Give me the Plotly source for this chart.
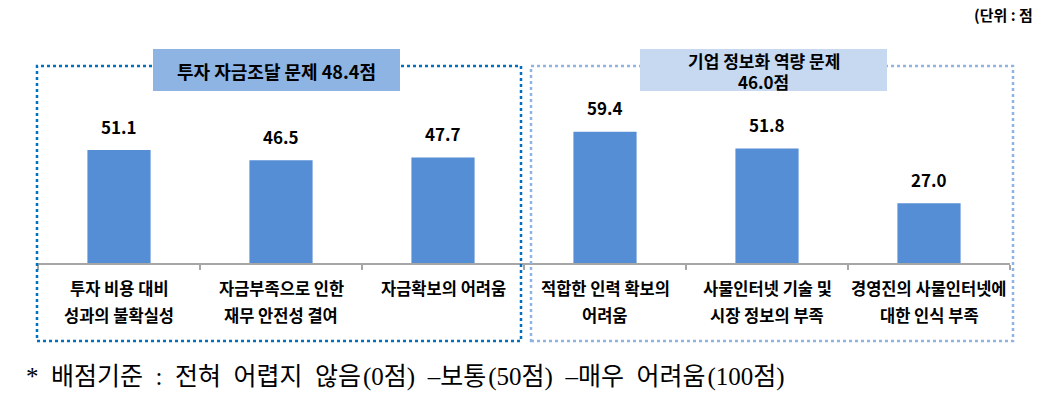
import plotly.graph_objects as go

categories = ["투자 비용 대비<br>성과의 불확실성", "자금부족으로 인한<br>재무 안전성 결여", "자금확보의 어려움",
              "적합한 인력 확보의<br>어려움", "사물인터넷 기술 및<br>시장 정보의 부족", "경영진의 사물인터넷에<br>대한 인식 부족"]
values = [51.1, 46.5, 47.7, 59.4, 51.8, 27.0]
group_titles = ["투자 자금조달 문제 48.4점", "기업 정보화 역량 문제<br>46.0점"]
unit_text = "(단위 : 점"
footnote = "* 배점기준 : 전혀 어렵지 않음(0점) –보통(50점) –매우 어려움(100점)"

W, H = 1038, 405
L, R, T, B = 38, 28, 50, 142
PW, PH = W - L - R, H - T - B
YMAX = PH / 2.21

def px(x):
    return (x - L) / PW

def py(y):
    return (H - B - y) / PH

KFONT = "Noto Sans CJK KR"
xidx = list(range(len(categories)))

fig = go.Figure()
fig.add_trace(go.Bar(x=xidx, y=values, marker=dict(color="#558ED5", line=dict(width=0)),
                     width=0.39, hoverinfo="skip"))

ann = []
for i, v in zip(xidx, values):
    ann.append(dict(x=i, y=v, xref="x", yref="y", text=f"{v:.1f}", showarrow=False,
                    yanchor="middle", yshift=24,
                    font=dict(family=KFONT, size=17, color="#000000", weight="bold")))
for i, c in zip(xidx, categories):
    lines = c.split("<br>")
    for j, ln in enumerate(lines):
        ann.append(dict(x=i, y=0, xref="x", yref="paper", text=ln, showarrow=False,
                        yanchor="middle", yshift=-25 - 27 * j,
                        font=dict(family=KFONT, size=16.5, color="#000000", weight="bold")))

shapes = []
# dotted group boxes
shapes.append(dict(type="rect", xref="paper", yref="paper", x0=px(37), x1=px(521), y0=py(341), y1=py(66),
                   line=dict(color="#0070C0", width=2.5, dash="dot"), fillcolor="rgba(0,0,0,0)", layer="above"))
shapes.append(dict(type="rect", xref="paper", yref="paper", x0=px(531), x1=px(1013), y0=py(341), y1=py(66),
                   line=dict(color="#8EB4E3", width=2.5, dash="dot"), fillcolor="rgba(0,0,0,0)", layer="above"))
# title boxes
shapes.append(dict(type="rect", xref="paper", yref="paper", x0=px(153), x1=px(400), y0=py(91), y1=py(49),
                   line=dict(width=0), fillcolor="#8EB4E3", layer="above"))
shapes.append(dict(type="rect", xref="paper", yref="paper", x0=px(640), x1=px(887), y0=py(91), y1=py(49),
                   line=dict(width=0), fillcolor="#C6D9F1", layer="above"))

ann.append(dict(x=px(276.5), y=py(71), xref="paper", yref="paper", text=group_titles[0], showarrow=False,
                xanchor="center", yanchor="middle",
                font=dict(family=KFONT, size=18, color="#000000", weight="bold")))
t2 = group_titles[1].split("<br>")
ann.append(dict(x=px(763.5), y=py(61), xref="paper", yref="paper", text=t2[0], showarrow=False,
                xanchor="center", yanchor="middle", borderpad=0,
                font=dict(family=KFONT, size=17, color="#000000", weight="bold")))
ann.append(dict(x=px(763.5), y=py(81.5), xref="paper", yref="paper", text=t2[1], showarrow=False,
                xanchor="center", yanchor="middle", borderpad=0,
                font=dict(family=KFONT, size=17, color="#000000", weight="bold")))
ann.append(dict(x=px(1035), y=py(14), xref="paper", yref="paper", text=unit_text, showarrow=False,
                xanchor="right", yanchor="middle",
                font=dict(family=KFONT, size=15, color="#000000", weight="bold")))
foot_disp = footnote.replace(" ", "&nbsp; ").replace("(", "&#8202;(")
ann.append(dict(x=px(24), y=py(377), xref="paper", yref="paper", text=foot_disp,
                showarrow=False, xanchor="left", yanchor="middle",
                font=dict(family="Liberation Serif, " + KFONT, size=25, color="#000000")))

fig.update_layout(
    width=W, height=H,
    margin=dict(l=L, r=R, t=T, b=B, pad=0),
    paper_bgcolor="white", plot_bgcolor="white",
    showlegend=False,
    xaxis=dict(type="linear", range=[-0.5, 5.5], showgrid=False, zeroline=False,
               showline=True, linecolor="#A6A6A6", linewidth=1.5,
               tickmode="array", tickvals=[-0.5, 0.5, 1.5, 2.5, 3.5, 4.5, 5.5],
               ticks="outside", ticklen=5, tickcolor="#A6A6A6", tickwidth=1.5,
               showticklabels=False, fixedrange=True),
    yaxis=dict(range=[0, YMAX], showgrid=False, zeroline=False, showline=False,
               showticklabels=False, ticks="", fixedrange=True),
    shapes=shapes,
    annotations=ann,
)

fig.write_html("out.html", config={"displayModeBar": False},
               post_script="document.body.style.margin='0';document.body.style.padding='0';")
